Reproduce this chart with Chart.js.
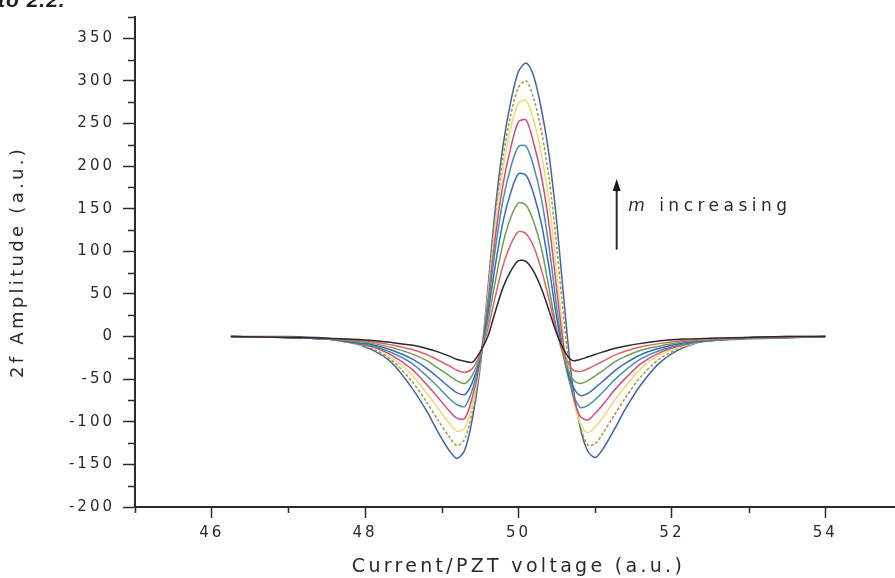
<!DOCTYPE html>
<html>
<head>
<meta charset="utf-8">
<script src="https://cdn.jsdelivr.net/npm/chart.js@4"></script>
<style>
  html, body { margin: 0; padding: 0; background: #fff; overflow: hidden; }
  #wrap { position: relative; width: 910px; height: 578px; }
  #cap { position: absolute; left: -2px; top: -12px; font: italic bold 21px "Liberation Sans", Arial, sans-serif; color: #222; letter-spacing: 1px; }
</style>
</head>
<body>
<div id="wrap">
  <canvas id="chart"></canvas>
  <div id="cap">to 2.2.</div>
</div>
<script>
// scan voltage (a.u.)
const voltage = [46.25, 47.0, 47.5, 47.8, 48.1, 48.35, 48.6, 48.8, 48.95, 49.1, 49.2, 49.3, 49.4, 49.5, 49.6, 49.7, 49.8, 49.9, 50.0, 50.1,
  50.2, 50.3, 50.4, 50.5, 50.6, 50.7, 50.8, 50.9, 51.0, 51.1, 51.25, 51.4, 51.6, 51.85, 52.15, 52.5, 53.0, 53.5, 54.0];

// 2f amplitude for each modulation index, smallest m first
const amp1 = [0, -1, -2, -3, -4.5, -7, -10, -14, -18, -23, -27, -29, -30, -18, 0, 30, 58, 77, 89, 88,
  76, 56, 30, 3, -17, -28, -27, -24, -21, -18, -14, -11, -8, -5, -3, -2, -1, 0, 0];
const amp2 = [0, -1, -2.5, -4, -6, -10, -15, -21, -27.5, -34.5, -39.5, -42, -37.5, -20.5, 8.5, 48, 84, 108.5, 123, 120.5,
  105, 78, 43, 5, -22, -38.5, -41, -38, -33.5, -29, -22, -17, -12, -8, -4.5, -3, -1.5, -0.5, 0];
const amp3 = [0, -1, -3, -5, -8, -13, -20, -28, -37, -46, -52, -55, -45, -23, 17, 66, 110, 140, 157, 154,
  134, 103, 56, 7, -27, -49, -55, -52, -46, -40, -30, -23, -16, -11, -6, -4, -2, -1, 0];
const amp4 = [0, -1, -3, -6, -9.5, -16, -25.5, -37, -48, -59.5, -66, -68, -53.5, -25, 25.5, 85, 135.5, 169.5, 191, 189,
  166.5, 132, 80, 20.5, -27.5, -56.5, -69, -67, -60, -52.5, -40.5, -31, -21, -13.5, -7.5, -4.5, -2, -1, 0];
const amp5 = [0, -1, -3, -7, -11, -19, -31, -46, -59, -73, -80, -82, -62, -27, 34, 104, 161, 199, 223, 223,
  199, 161, 104, 34, -28, -64, -83, -81, -74, -65, -51, -39, -26, -16, -9, -5, -2.5, -1.5, 0];
const amp6 = [0, -1, -3, -7, -12, -22, -37.5, -56, -71.5, -87.5, -96, -96, -70.5, -28.5, 40.5, 118.5, 179.5, 222, 252, 254,
  226, 187.5, 130.5, 54, -19, -65.5, -93, -98, -90, -80, -63, -48.5, -31.5, -18.5, -10, -5, -2, -1, 0];
const amp7 = [0, -1, -3, -7, -13, -25, -44, -66, -84, -102, -111, -107, -79, -30, 47, 133, 198, 245, 274, 277,
  253, 214, 157, 74, -10, -67, -101, -113, -106, -95, -75, -58, -37, -21, -11, -5, -2, -1, 0];
const amp8 = [0, -1, -3, -6.5, -14.5, -28, -51.5, -76.5, -98, -118, -128, -120, -87.5, -33, 51.5, 142.5, 211.5, 260.5, 292.5, 300,
  279, 240, 184.5, 103.5, 12.5, -60, -103, -127, -126, -113.5, -92, -71, -46.5, -25.5, -12, -4.5, -1.5, -0.5, 0];
const amp9 = [0, 0, -2, -6, -16, -31, -59, -87, -112, -134, -143, -133, -96, -36, 56, 152, 225, 276, 311, 321,
  305, 266, 212, 133, 35, -53, -105, -134, -142, -132, -109, -84, -56, -30, -13, -4, -1, 0, 0];

const curves = [amp1, amp2, amp3, amp4, amp5, amp6, amp7, amp8, amp9];
const colors = ['#2b2b2b', '#e0606c', '#6e9e52', '#3b68b2', '#4a8fae', '#d6487e', '#e6dc78', '#a8963e', '#3f63a6'];

const axisColor = '#2a2a2a';
const fontFamily = '"DejaVu Sans", Verdana, sans-serif';

// wrap a scale drawing method so its text is letter-spaced
function spaced(fn, gap) {
  return function () {
    const c = this.ctx;
    const prev = c.letterSpacing;
    c.letterSpacing = gap;
    fn.apply(this, arguments);
    c.letterSpacing = prev;
  };
}

const axisExtras = {
  id: 'axisExtras',
  beforeDraw(chart) {
    Object.values(chart.scales).forEach((s) => {
      if (!s._spaced) {
        s.drawLabels = spaced(s.drawLabels, '3px');
        s.drawTitle = spaced(s.drawTitle, '3.3px');
        s._spaced = true;
      }
    });
  },
  afterDraw(chart) {
    const { ctx, chartArea } = chart;
    const x = chart.scales.x;
    const y = chart.scales.y;
    ctx.save();
    ctx.strokeStyle = axisColor;
    ctx.lineWidth = 1.5;

    // minor ticks
    ctx.beginPath();
    x.ticks.forEach((t) => {
      if (t.value % 2 !== 0) {
        const px = Math.round(x.getPixelForValue(t.value)) + 0.5;
        ctx.moveTo(px, chartArea.bottom);
        ctx.lineTo(px, chartArea.bottom + 6);
      }
    });
    y.ticks.forEach((t) => {
      if (t.value % 50 !== 0) {
        const py = Math.round(y.getPixelForValue(t.value)) + 0.5;
        ctx.moveTo(chartArea.left, py);
        ctx.lineTo(chartArea.left - 7, py);
      }
    });
    ctx.stroke();

    // "m increasing" arrow
    const ax = x.getPixelForValue(51.28);
    const aTop = y.getPixelForValue(185);
    const aBot = y.getPixelForValue(102);
    ctx.lineWidth = 2;
    ctx.beginPath();
    ctx.moveTo(ax, aBot);
    ctx.lineTo(ax, aTop + 10);
    ctx.stroke();
    ctx.fillStyle = '#1a1a1a';
    ctx.beginPath();
    ctx.moveTo(ax, aTop);
    ctx.lineTo(ax - 4, aTop + 12);
    ctx.lineTo(ax + 4, aTop + 12);
    ctx.closePath();
    ctx.fill();

    const tx = x.getPixelForValue(51.43);
    const ty = y.getPixelForValue(153);
    ctx.letterSpacing = '4.5px';
    ctx.textBaseline = 'middle';
    ctx.fillStyle = axisColor;
    ctx.font = 'italic 17px ' + fontFamily;
    ctx.fillText('m', tx, ty);
    const mw = ctx.measureText('m').width;
    ctx.font = '17px ' + fontFamily;
    ctx.fillText(' increasing', tx + mw, ty);
    ctx.restore();
  }
};

new Chart(document.getElementById('chart'), {
  type: 'line',
  data: {
    datasets: curves.map((amp, k) => ({
      data: voltage.map((v, i) => ({ x: v, y: amp[i] })),
      borderColor: colors[k],
      borderWidth: 1.5,
      borderDash: k === 7 ? [3, 2] : [],
      pointRadius: 0,
      tension: 0.3,
      fill: false
    }))
  },
  options: {
    responsive: true,
    maintainAspectRatio: false,
    animation: false,
    events: [],
    layout: { padding: { top: 12, right: 8, left: 0, bottom: 0 } },
    plugins: { legend: { display: false }, tooltip: { enabled: false } },
    scales: {
      x: {
        type: 'linear',
        min: 45,
        max: 55,
        afterFit(scale) { scale.height = 71; },
        border: { display: true, color: axisColor, width: 2 },
        grid: {
          drawOnChartArea: false,
          drawTicks: true,
          tickLength: 11,
          tickWidth: 1.5,
          tickColor: (c) => (c.tick && c.tick.value % 2 === 0 ? axisColor : 'rgba(0,0,0,0)')
        },
        ticks: {
          stepSize: 1,
          autoSkip: false,
          maxRotation: 0,
          padding: 6,
          color: axisColor,
          font: { family: fontFamily, size: 15 },
          callback: (v) => (v % 2 === 0 && v >= 46 && v <= 54 ? String(v) : '')
        },
        title: {
          display: true,
          text: 'Current/PZT voltage (a.u.)',
          color: axisColor,
          font: { family: fontFamily, size: 19 },
          padding: { top: 0, bottom: 0 }
        }
      },
      y: {
        min: -200,
        max: 375,
        afterFit(scale) { scale.width = 135; },
        border: { display: true, color: axisColor, width: 2 },
        grid: {
          drawOnChartArea: false,
          drawTicks: true,
          tickLength: 12,
          tickWidth: 1.5,
          tickColor: (c) => (c.tick && c.tick.value % 50 === 0 ? axisColor : 'rgba(0,0,0,0)')
        },
        ticks: {
          stepSize: 25,
          autoSkip: false,
          padding: 8,
          color: axisColor,
          font: { family: fontFamily, size: 15 },
          callback: (v) => (v % 50 === 0 ? String(v) : '')
        },
        title: {
          display: true,
          text: '2f Amplitude (a.u.)',
          color: axisColor,
          font: { family: fontFamily, size: 18 },
          padding: { top: 8, bottom: 0 }
        }
      }
    }
  },
  plugins: [axisExtras]
});
</script>
</body>
</html>
